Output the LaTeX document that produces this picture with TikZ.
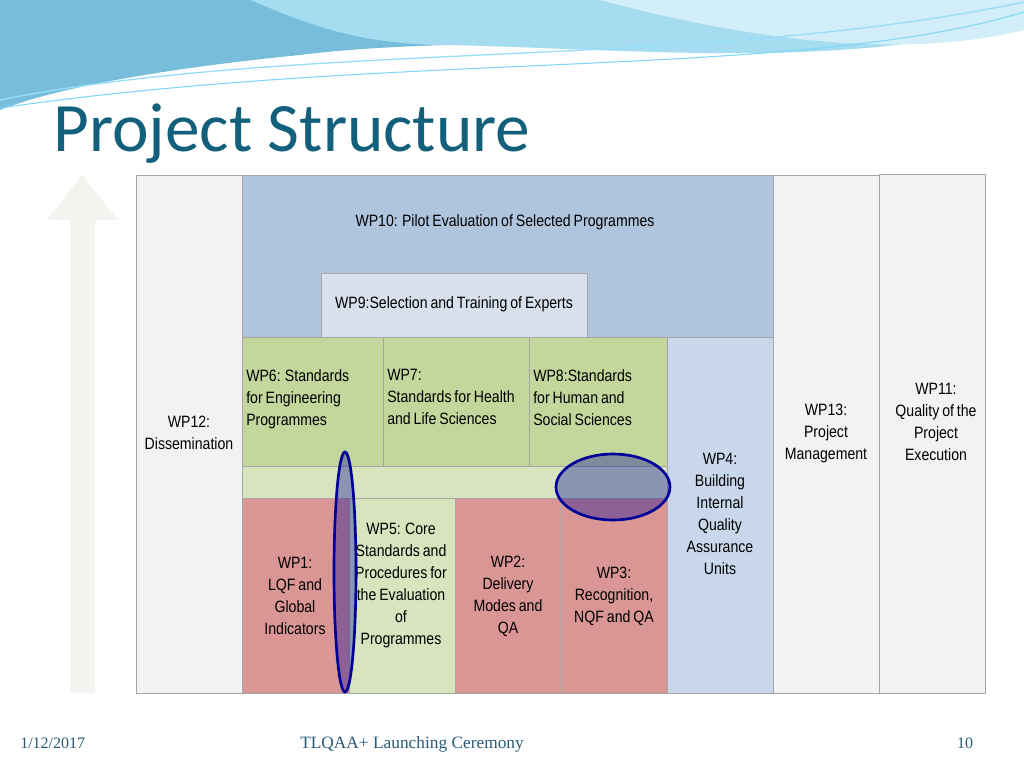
\documentclass[tikz,border=0pt]{standalone}
\usepackage{fontspec}
\setmainfont{Liberation Sans}[FakeStretch=0.86,WordSpace=0.75]
\newfontfamily\titlefont{Carlito}
\newfontfamily\footfont{Liberation Serif}
\definecolor{teal1}{RGB}{19,96,124}
\definecolor{foot}{RGB}{40,90,120}
\definecolor{sky1}{RGB}{120,190,220}
\definecolor{sky2}{RGB}{165,220,240}
\definecolor{sky3}{RGB}{210,238,248}
\begin{document}
\begin{tikzpicture}[x=0.75pt,y=-0.75pt,
  box/.style={draw=gray!70,line width=0.6pt},
  lbl/.style={font=\fontsize{12.3}{16.5}\selectfont,align=center,inner sep=0pt},
  lbll/.style={font=\fontsize{12.3}{16.5}\selectfont,align=left,inner sep=0pt,anchor=north west},
  ell/.style={draw=blue!60!black,line width=2pt,fill=blue!60!black,fill opacity=0.35}]
\useasboundingbox (0,0) rectangle (1024,768);
\fill[white] (0,0) rectangle (1024,768);
% header waves
\fill[sky1] (0,0) -- (1024,0) -- (1024,10) .. controls (800,60) and (500,30) .. (300,55) .. controls (150,70) and (50,90) .. (0,110) -- cycle;
\fill[sky2] (250,0) -- (1024,0) -- (1024,20) .. controls (850,70) and (650,50) .. (450,45) .. controls (350,45) and (300,20) .. (250,0) -- cycle;
\fill[sky3] (600,0) -- (1024,0) -- (1024,30) .. controls (900,60) and (750,40) .. (600,0) -- cycle;
\draw[cyan!40,line width=1pt] (0,100) .. controls (300,40) and (700,70) .. (1024,2);
\draw[cyan!50,line width=0.8pt] (0,108) .. controls (400,50) and (800,80) .. (1024,12);
\node[anchor=base west,inner sep=0pt,text=teal1,font=\titlefont\fontsize{52}{58}\selectfont] (title) at (53,151) {Project Structure};
% arrow
\fill[yellow!8!gray!12] (70,693) -- (70,220) -- (47,220) -- (82,175) -- (118,220) -- (95,220) -- (95,693) -- cycle;
% boxes
\draw[box,fill=gray!10] (136,175) rectangle (242,693);
\draw[box,fill=gray!10] (773,175) rectangle (879,693);
\draw[box,fill=gray!10] (879,174) rectangle (985,693);
\draw[box,fill={rgb,255:red,175;green,197;blue,222}] (242,175) rectangle (773,337);
\draw[box,fill={rgb,255:red,215;green,224;blue,236}] (321,273) rectangle (587,337);
\draw[box,fill={rgb,255:red,200;green,215;blue,235}] (667,337) rectangle (773,693);
\draw[box,fill={rgb,255:red,195;green,214;blue,155}] (242,337) rectangle (383,466);
\draw[box,fill={rgb,255:red,195;green,214;blue,155}] (383,337) rectangle (529,466);
\draw[box,fill={rgb,255:red,195;green,214;blue,155}] (529,337) rectangle (667,466);
\draw[box,fill={rgb,255:red,215;green,228;blue,189}] (242,466) rectangle (667,498);
\draw[box,fill={rgb,255:red,215;green,228;blue,189}] (349,498) rectangle (455,693);
\draw[box,fill={rgb,255:red,217;green,150;blue,148}] (242,498) rectangle (349,693);
\draw[box,fill={rgb,255:red,217;green,150;blue,148}] (455,498) rectangle (561,693);
\draw[box,fill={rgb,255:red,217;green,150;blue,148}] (561,498) rectangle (667,693);
% texts
\node[lbl] (wp10) at (505,222) {WP10: Pilot Evaluation of Selected Programmes};
\node[lbl] (wp9) at (454,304) {WP9:Selection and Training of Experts};
\node[lbll] (wp6) at (246,369) {WP6: Standards\\for Engineering\\Programmes};
\node[lbll] (wp7) at (387,369) {WP7:\\Standards for Health\\and Life Sciences};
\node[lbll] (wp8) at (533,369) {WP8:Standards\\for Human and\\Social Sciences};
\node[lbl] (wp12) at (189,433) {WP12:\\Dissemination};
\node[lbl] (wp4) at (720,514) {WP4:\\Building\\Internal\\Quality\\Assurance\\Units};
\node[lbl] (wp13) at (826,433) {WP13:\\Project\\Management};
\node[lbl] (wp11) at (936,422) {WP11:\\Quality of the\\Project\\Execution};
\node[lbl] (wp5) at (401,585) {WP5: Core\\Standards and\\Procedures for\\the Evaluation\\of\\Programmes};
\node[lbl] (wp1) at (295,596) {WP1:\\LQF and\\Global\\Indicators};
\node[lbl] (wp2) at (508,596) {WP2:\\Delivery\\Modes and\\QA};
\node[lbl] (wp3) at (614,596) {WP3:\\Recognition,\\NQF and QA};
% ellipses
\draw[ell] (345,572) ellipse [x radius=11,y radius=120];
\draw[ell] (613,487) ellipse [x radius=57,y radius=33];
% footer
\node[anchor=base west,inner sep=0pt,text=foot,font=\footfont\fontsize{12}{14}\selectfont] (date) at (20,748) {1/12/2017};
\node[anchor=base,inner sep=0pt,text=foot,font=\footfont\fontsize{13}{15}\selectfont] (foot) at (412,748) {TLQAA+ Launching Ceremony};
\node[anchor=base,inner sep=0pt,text=foot,font=\footfont\fontsize{12}{14}\selectfont] (pg) at (965,748) {10};
\end{tikzpicture}
\end{document}
